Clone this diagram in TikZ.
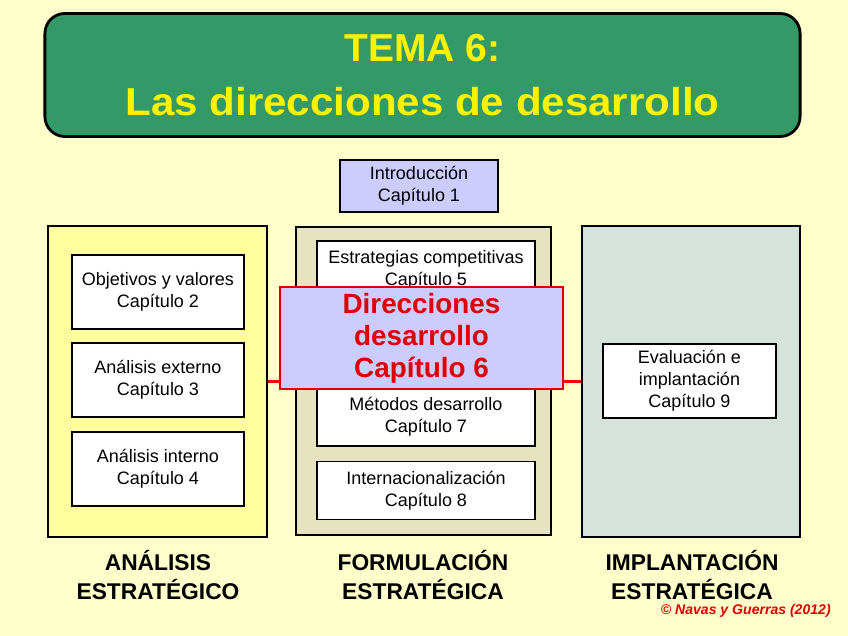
\documentclass[tikz,border=0pt]{standalone}
\usepackage{fontspec}
\setmainfont{Liberation Sans}
\definecolor{fondo}{HTML}{FFFFCC}
\definecolor{verde}{HTML}{339966}
\definecolor{lila}{HTML}{CCCCFF}
\definecolor{rojo}{HTML}{DD0000}
\definecolor{amarillo}{HTML}{FFFFA0}
\definecolor{gris}{HTML}{E6E3C0}
\definecolor{azul}{HTML}{D6E2DC}
\tikzset{
  bloque/.style={draw,line width=2pt,minimum height=7.775cm},
  caja/.style={draw,line width=1.4pt,fill=white,align=center,
    minimum height=1.85cm,inner sep=0pt,font=\fontsize{12.8}{15.6}\selectfont},
  etapa/.style={align=center,font=\bfseries\fontsize{16.2}{21}\selectfont}
}
\begin{document}
\begin{tikzpicture}[x=0.025cm,y=-0.025cm]
\useasboundingbox[fill=fondo](0,0) rectangle (848,636);
% titulo
\node(titulo)[draw,line width=2pt,rounded corners=0.5cm,fill=verde,
  minimum width=18.875cm,minimum height=3.075cm,align=center,text=yellow,
  font=\bfseries\fontsize{27.7}{38.5}\selectfont] at (422.5,75)
  {TEMA 6:\\\scalebox{1.08}[1]{Las direcciones de desarrollo}};
\node(intro)[caja,fill=lila,minimum width=3.95cm,minimum height=1.3cm] at (419,186)
  {Introducción\\Capítulo 1};
% bloques
\node(analisis)[bloque,fill=amarillo,minimum width=5.475cm] at (157.5,381.5){};
\node(implanta)[bloque,fill=azul,minimum width=5.45cm] at (691,381.5){};
\draw[red,line width=1.6pt](analisis.east)--(implanta.west);
\node(formula)[bloque,fill=gris,minimum width=6.375cm,minimum height=7.7cm] at (423.5,381){};
% analisis
\node(cap2)[caja,minimum width=4.3cm] at (158,292){Objetivos y valores\\Capítulo 2};
\node(cap3)[caja,minimum width=4.3cm] at (158,380){Análisis externo\\Capítulo 3};
\node(cap4)[caja,minimum width=4.3cm] at (158,469){Análisis interno\\Capítulo 4};
% formulacion
\node(cap5)[caja,minimum width=5.45cm,minimum height=1.45cm] at (426,270)
  {Estrategias competitivas\\Capítulo 5};
\node(cap7)[caja,minimum width=5.45cm,minimum height=1.45cm] at (426,417)
  {Métodos desarrollo\\Capítulo 7};
\node(cap8)[caja,minimum width=5.45cm,minimum height=1.45cm] at (426,490.5)
  {Internacionalización\\Capítulo 8};
\node(cap6)[draw=rojo,line width=1.4pt,fill=lila,minimum width=7.05cm,minimum height=2.55cm,
  align=center,text=rojo,font=\bfseries\fontsize{19.8}{22.7}\selectfont] at (421.5,338)
  {Direcciones\\desarrollo\\Capítulo 6};
% implantacion
\node(cap9)[caja,minimum width=4.325cm] at (689.5,381){Evaluación e\\implantación\\Capítulo 9};
% etiquetas
\node(et1)[etapa] at (158,575){ANÁLISIS\\ESTRATÉGICO};
\node(et2)[etapa] at (423,575){FORMULACIÓN\\ESTRATÉGICA};
\node(et3)[etapa] at (692,575){IMPLANTACIÓN\\ESTRATÉGICA};
\node(autor)[anchor=east,text=rojo,inner sep=0pt,font=\bfseries\itshape\fontsize{10}{12}\selectfont]
  at (831,611){© Navas y Guerras (2012)};
\end{tikzpicture}
\end{document}
